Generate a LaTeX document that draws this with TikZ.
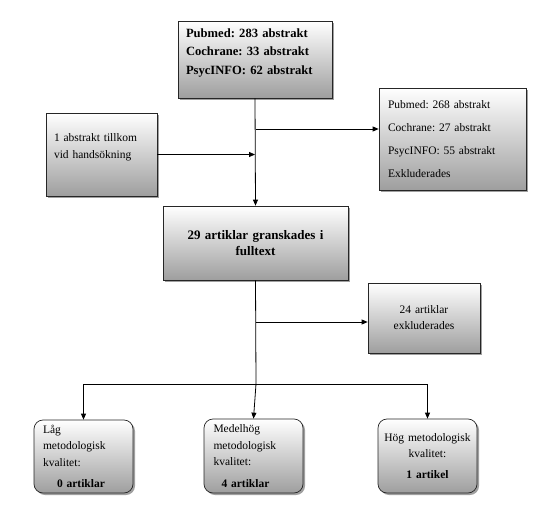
\documentclass[tikz,border=0pt]{standalone}
\usepackage{fontspec}
\setmainfont{Liberation Serif}
\frenchspacing
\usetikzlibrary{shadows,arrows.meta}
\begin{document}
\begin{tikzpicture}[x=1pt,y=-1pt,>={Triangle[length=6pt,width=5pt]},line width=0.8pt]
% flowchart of abstract and article selection
\tikzstyle{box} = [rectangle, draw=black!85, line width=0.7pt, inner sep=0pt, top color=white, bottom color=black!38, drop shadow={shadow xshift=2pt,shadow yshift=-2pt,opacity=0.75}]
\tikzstyle{roundbox} = [box, rounded corners=9pt]
\useasboundingbox (0,0) rectangle (551,524);
\node (search)[box, minimum width=154pt, minimum height=77pt, text width=138pt, align=left, font=\fontsize{12.6}{18.5}\selectfont\bfseries, text depth=53pt] at (255,59.5) {Pubmed: 283 abstrakt\\Cochrane: 33 abstrakt\\PsycINFO: 62 abstrakt};
\node (excl)[box, minimum width=147pt, minimum height=102pt, text width=129pt, align=left, font=\fontsize{11.5}{23}\selectfont] at (452.5,139) {Pubmed: 268 abstrakt\\Cochrane: 27 abstrakt\\PsycINFO: 55 abstrakt\\Exkluderades};
\node (hand)[box, minimum width=111pt, minimum height=83pt, text width=95pt, align=left, font=\fontsize{11.5}{17}\selectfont, text depth=34pt] at (101.5,154.5) {1 abstrakt tillkom\\vid handsökning};
\node (full)[box, minimum width=185pt, minimum height=74pt, text width=175pt, align=center, font=\fontsize{13}{15.5}\selectfont\bfseries] at (255.5,243) {29 artiklar granskades i\\fulltext};
\node (excl2)[box, minimum width=112pt, minimum height=70pt, text width=100pt, align=center, font=\fontsize{11.5}{16}\selectfont] at (424,318) {24 artiklar\\exkluderades};
\node (low)[roundbox, minimum width=99pt, minimum height=73pt, text width=81pt, align=left, font=\fontsize{11.5}{16.5}\selectfont] at (83.5,456.5) {Låg\\metodologisk\\kvalitet:\\[5pt]\hspace*{14pt}\textbf{0 artiklar}};
\node (medium)[roundbox, minimum width=99pt, minimum height=74pt, text width=80pt, align=left, font=\fontsize{11.5}{16.5}\selectfont] at (253.5,456) {Medelhög\\metodologisk\\kvalitet:\\[5pt]\hspace*{8pt}\textbf{4 artiklar}};
\node (high)[roundbox, minimum width=99pt, minimum height=74pt, text width=92pt, align=center, font=\fontsize{11.5}{16.5}\selectfont] at (427.5,456) {Hög metodologisk\\kvalitet:\\[4pt]\textbf{1 artikel}};
\coordinate (j1) at (256,129);
\coordinate (j2) at (256,384);
\coordinate (j3) at (256,322);
\draw [->] (search.south) -- (full.north);
\draw [->] (j1) -- (j1 -| excl.west);
\draw [->] (hand.east) -- (hand.east -| search.south);
\draw (full.south) -- (j2);
\draw [->] (j3) -- (j3 -| excl2.west);
\draw [->] (j2) -| (low.north);
\draw [->] (j2) -- (medium.north);
\draw [->] (j2) -| (high.north);
\end{tikzpicture}
\end{document}
